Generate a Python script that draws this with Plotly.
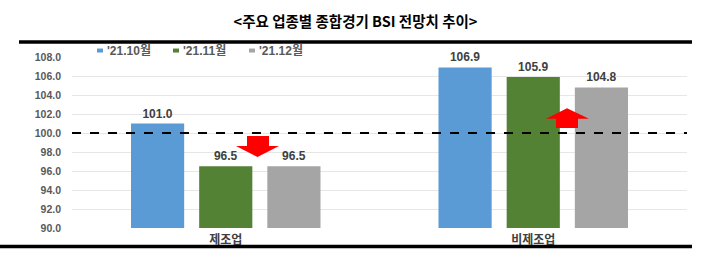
import plotly.graph_objects as go

categories = ["제조업", "비제조업"]
series_names = ["'21.10월", "'21.11월", "'21.12월"]
values_oct = [101.0, 106.9]
values_nov = [96.5, 105.9]
values_dec = [96.5, 104.8]
colors = ["#5B9BD5", "#548235", "#A5A5A5"]
y_ticks = [90, 92, 94, 96, 98, 100, 102, 104, 106, 108]
title_text = "<주요 업종별 종합경기 BSI 전망치 추이>"

W, H = 711, 263
L, R, T, B = 72, 687, 56.5, 228.5

def px(x):
    return (x - L) / (R - L)

def py(y):
    return (B - y) / (B - T)

fig = go.Figure()
for name, vals, c in zip(series_names, [values_oct, values_nov, values_dec], colors):
    fig.add_trace(go.Bar(
        x=categories, y=vals, name=name, marker=dict(color=c, line=dict(width=0)),
        text=[f"{v:.1f}" for v in vals], textposition="outside", cliponaxis=False,
        textfont=dict(size=12, color="#404040", family="Liberation Sans, Arial", weight="bold"),
        showlegend=False,
    ))

def path(points):
    return "M " + " L ".join(f"{px(a):.5f},{py(b):.5f}" for a, b in points) + " Z"

shapes = [
    dict(type="line", xref="paper", yref="y", x0=0, x1=1, y0=100, y1=100,
         line=dict(color="black", width=2, dash="dash")),
    dict(type="line", xref="paper", yref="paper", x0=px(19), x1=px(692), y0=py(41.3), y1=py(41.3),
         line=dict(color="black", width=3.5)),
    dict(type="line", xref="paper", yref="paper", x0=px(0), x1=px(692), y0=py(247), y1=py(247),
         line=dict(color="black", width=3.5)),
    dict(type="path", xref="paper", yref="paper", fillcolor="#FF0000", line=dict(width=0),
         path=path([(247, 136), (269, 136), (269, 146), (279, 146), (257.5, 157),
                    (236, 146), (247, 146)])),
    dict(type="path", xref="paper", yref="paper", fillcolor="#FF0000", line=dict(width=0),
         path=path([(556, 128), (578, 128), (578, 118.5), (589, 118.5), (567, 108),
                    (546, 118.5), (556, 118.5)])),
]

# manual legend (small swatches + text)
annotations = []
legend_x0, legend_step, legend_y = 97, 76, 50
for i, (name, c) in enumerate(zip(series_names, colors)):
    x0 = legend_x0 + i * legend_step
    shapes.append(dict(type="rect", xref="paper", yref="paper",
                       x0=px(x0), x1=px(x0 + 6), y0=py(legend_y + 2), y1=py(legend_y - 2),
                       fillcolor=c, line=dict(width=0)))
    annotations.append(dict(xref="paper", yref="paper", x=px(x0 + 8), y=py(legend_y),
                            xanchor="left", yanchor="middle", showarrow=False, text=name,
                            font=dict(size=12, color="#595959", family="Liberation Sans, Noto Sans CJK KR",
                                      weight="bold")))

fig.update_layout(
    width=W, height=H,
    margin=dict(l=L, r=W - R, t=T, b=H - B),
    paper_bgcolor="white", plot_bgcolor="white",
    barmode="group", bargap=0.335, bargroupgap=0.22,
    showlegend=False,
    title=dict(text=title_text, x=0.5, xref="container", xanchor="center", y=1 - 22 / H, yanchor="middle",
               font=dict(size=14.5, color="black", family="Noto Sans CJK KR", weight="bold")),
    xaxis=dict(showline=False, ticks="", showgrid=False,
               tickfont=dict(size=12, color="#404040", family="Noto Sans CJK KR", weight="bold"),
               ticklabelstandoff=3),
    yaxis=dict(range=[90, 108], tickvals=y_ticks, ticktext=[f"{v:.1f}" for v in y_ticks],
               showgrid=True, gridcolor="#E6E6E6", gridwidth=1, zeroline=False, showline=False,
               tickfont=dict(size=10.5, color="#595959", family="Liberation Sans, Arial", weight="bold"),
               ticks="", ticklabelstandoff=10),
    shapes=shapes,
    annotations=annotations,
    font=dict(family="Noto Sans CJK KR"),
)

fig.write_html("out.html")
